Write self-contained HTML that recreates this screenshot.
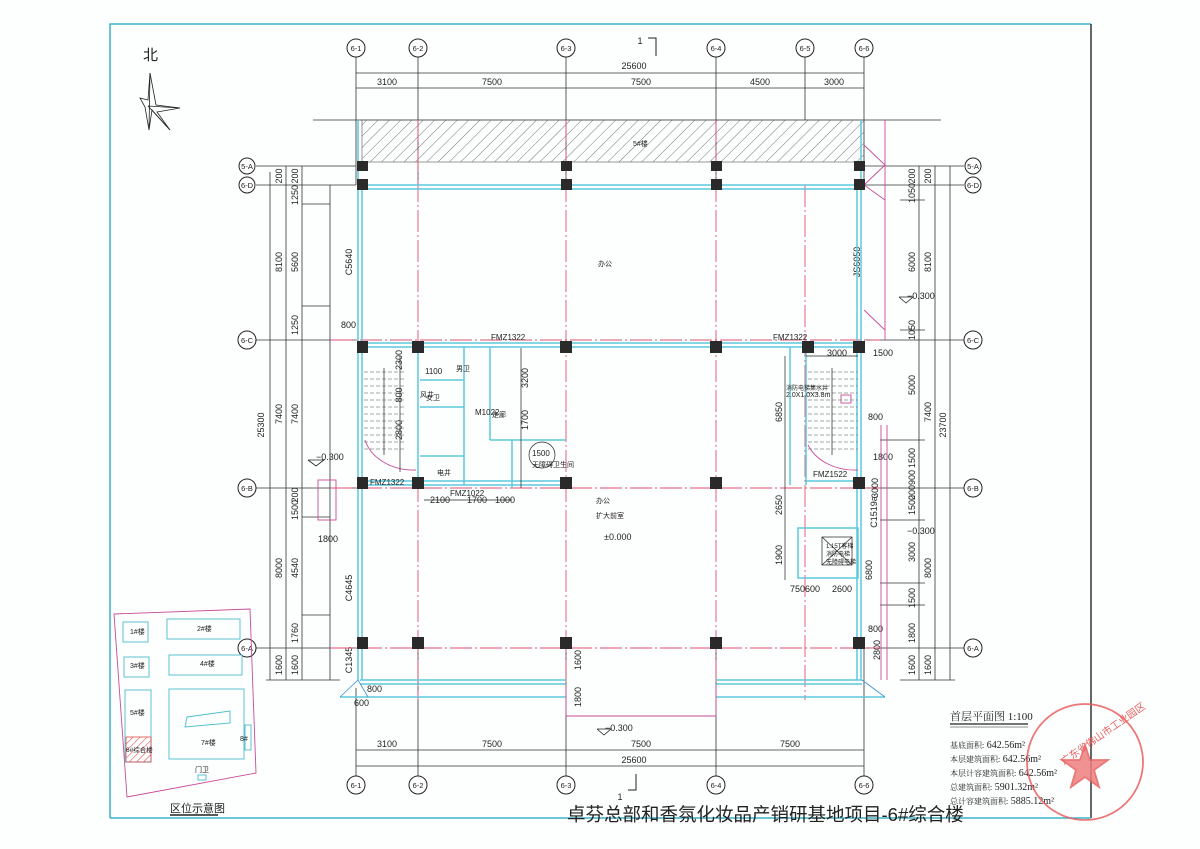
<!DOCTYPE html>
<html><head><meta charset="utf-8"><style>
html,body{margin:0;padding:0;background:#fdfefe;}
svg{display:block;font-family:"Liberation Sans","Noto Sans CJK SC",sans-serif;}
</style></head><body>
<svg width="1200" height="849" viewBox="0 0 1200 849" xmlns="http://www.w3.org/2000/svg">
<defs>
<pattern id="h" width="8" height="8" patternUnits="userSpaceOnUse" patternTransform="rotate(45)"><line x1="0" y1="0" x2="0" y2="8" stroke="#555" stroke-width="0.8"/></pattern>
<pattern id="hr" width="5" height="5" patternUnits="userSpaceOnUse" patternTransform="rotate(45)"><line x1="0" y1="0" x2="0" y2="5" stroke="#d33" stroke-width="1"/></pattern>
</defs>
<rect width="1200" height="849" fill="#fdfefe"/>
<!-- border -->
<polyline points="110,818 110,24 1091,24" fill="none" stroke="#3bb4c8" stroke-width="1.5"/>
<line x1="1091" y1="24" x2="1091" y2="818" stroke="#333" stroke-width="1.5"/>
<line x1="110" y1="818" x2="1091" y2="818" stroke="#3bb4c8" stroke-width="1.5"/>

<!-- north -->
<text x="143" y="60" font-size="15" fill="#222">北</text>
<g fill="none" stroke="#222" stroke-width="0.8">
<polygon points="150,73 156,105 180,108 157,112 170,130 152,110 149,130 145,107 140,98 148,100"/>
<line x1="150" y1="73" x2="149" y2="130"/><line x1="148" y1="106" x2="180" y2="108"/><line x1="148" y1="106" x2="170" y2="130"/>
</g>

<!-- grid lines -->
<g stroke="#333" stroke-width="0.8">
<line x1="356" y1="57" x2="356" y2="185"/><line x1="418" y1="57" x2="418" y2="185"/><line x1="566" y1="57" x2="566" y2="185"/><line x1="716" y1="57" x2="716" y2="185"/><line x1="805" y1="57" x2="805" y2="120"/><line x1="864" y1="57" x2="864" y2="185"/>
<line x1="356" y1="73" x2="864" y2="73"/><line x1="356" y1="88" x2="864" y2="88"/>
<line x1="313" y1="120" x2="941" y2="120"/>
<line x1="356" y1="688" x2="356" y2="776"/><line x1="418" y1="640" x2="418" y2="776"/><line x1="566" y1="640" x2="566" y2="776"/><line x1="716" y1="640" x2="716" y2="776"/><line x1="864" y1="640" x2="864" y2="776"/>
<line x1="356" y1="750" x2="864" y2="750"/><line x1="356" y1="766" x2="864" y2="766"/>
<line x1="256" y1="166" x2="356" y2="166"/><line x1="256" y1="185" x2="356" y2="185"/><line x1="256" y1="340" x2="356" y2="340"/><line x1="256" y1="488" x2="356" y2="488"/><line x1="256" y1="648" x2="356" y2="648"/>
<line x1="864" y1="166" x2="964" y2="166"/><line x1="864" y1="185" x2="964" y2="185"/><line x1="864" y1="340" x2="964" y2="340"/><line x1="864" y1="488" x2="964" y2="488"/><line x1="864" y1="648" x2="964" y2="648"/>
<line x1="270" y1="172" x2="270" y2="680"/><line x1="286" y1="166" x2="286" y2="680"/><line x1="302" y1="166" x2="302" y2="680"/>
<line x1="266" y1="680" x2="340" y2="680"/>
<line x1="302" y1="204" x2="330" y2="204"/><line x1="302" y1="306" x2="330" y2="306"/><line x1="302" y1="517" x2="330" y2="517"/><line x1="302" y1="615" x2="330" y2="615"/>
<line x1="919" y1="166" x2="919" y2="680"/><line x1="935" y1="166" x2="935" y2="680"/><line x1="950" y1="166" x2="950" y2="680"/>
<line x1="900" y1="680" x2="955" y2="680"/>
<line x1="900" y1="200" x2="925" y2="200"/><line x1="900" y1="330" x2="925" y2="330"/><line x1="880" y1="440" x2="925" y2="440"/><line x1="880" y1="520" x2="925" y2="520"/><line x1="880" y1="583" x2="925" y2="583"/><line x1="880" y1="605" x2="925" y2="605"/>
<line x1="330" y1="185" x2="330" y2="680"/>
</g>
<g fill="#fff" stroke="#222" stroke-width="1">
<circle cx="356" cy="48" r="9"/><circle cx="418" cy="48" r="9"/><circle cx="566" cy="48" r="9"/><circle cx="716" cy="48" r="9"/><circle cx="805" cy="48" r="9"/><circle cx="864" cy="48" r="9"/>
<circle cx="356" cy="785" r="9"/><circle cx="418" cy="785" r="9"/><circle cx="566" cy="785" r="9"/><circle cx="716" cy="785" r="9"/><circle cx="864" cy="785" r="9"/>
<circle cx="247" cy="166" r="8"/><circle cx="247" cy="185" r="8"/><circle cx="247" cy="340" r="9"/><circle cx="247" cy="488" r="9"/><circle cx="247" cy="648" r="9"/>
<circle cx="973" cy="166" r="8"/><circle cx="973" cy="185" r="8"/><circle cx="973" cy="340" r="9"/><circle cx="973" cy="488" r="9"/><circle cx="973" cy="648" r="9"/>
</g>
<g font-size="7.5" fill="#222" text-anchor="middle">
<text x="356" y="51">6-1</text><text x="418" y="51">6-2</text><text x="566" y="51">6-3</text><text x="716" y="51">6-4</text><text x="805" y="51">6-5</text><text x="864" y="51">6-6</text>
<text x="356" y="788">6-1</text><text x="418" y="788">6-2</text><text x="566" y="788">6-3</text><text x="716" y="788">6-4</text><text x="864" y="788">6-6</text>
<text x="247" y="169">5-A</text><text x="247" y="188">6-D</text><text x="247" y="343">6-C</text><text x="247" y="491">6-B</text><text x="247" y="651">6-A</text>
<text x="973" y="169">5-A</text><text x="973" y="188">6-D</text><text x="973" y="343">6-C</text><text x="973" y="491">6-B</text><text x="973" y="651">6-A</text>
</g>
<g font-size="9" fill="#222" text-anchor="middle">
<text x="634" y="69">25600</text>
<text x="387" y="85">3100</text><text x="492" y="85">7500</text><text x="641" y="85">7500</text><text x="760" y="85">4500</text><text x="834" y="85">3000</text>
<text x="387" y="747">3100</text><text x="492" y="747">7500</text><text x="641" y="747">7500</text><text x="790" y="747">7500</text>
<text x="634" y="763">25600</text>
<text x="640" y="44">1</text><text x="620" y="800">1</text>
</g>
<polyline points="648,38 656,38 656,56" fill="none" stroke="#222"/>
<polyline points="628,790 636,790 636,774" fill="none" stroke="#222"/>
<g font-size="9" fill="#222" text-anchor="middle">
<text transform="translate(264,425) rotate(-90)">25300</text>
<text transform="translate(282,262) rotate(-90)">8100</text><text transform="translate(282,414) rotate(-90)">7400</text><text transform="translate(282,568) rotate(-90)">8000</text><text transform="translate(282,665) rotate(-90)">1600</text>
<text transform="translate(282,176) rotate(-90)">200</text><text transform="translate(298,176) rotate(-90)">200</text>
<text transform="translate(298,195) rotate(-90)">1250</text><text transform="translate(298,262) rotate(-90)">5600</text><text transform="translate(298,325) rotate(-90)">1250</text>
<text transform="translate(298,414) rotate(-90)">7400</text><text transform="translate(298,495) rotate(-90)">200</text><text transform="translate(298,510) rotate(-90)">1500</text>
<text transform="translate(298,568) rotate(-90)">4540</text><text transform="translate(298,633) rotate(-90)">1760</text><text transform="translate(298,665) rotate(-90)">1600</text>
<text transform="translate(352,262) rotate(-90)">C5640</text><text transform="translate(352,588) rotate(-90)">C4645</text><text transform="translate(352,660) rotate(-90)">C1345</text>
<text transform="translate(915,176) rotate(-90)">200</text><text transform="translate(931,176) rotate(-90)">200</text>
<text transform="translate(915,193) rotate(-90)">1050</text><text transform="translate(915,262) rotate(-90)">6000</text><text transform="translate(915,330) rotate(-90)">1050</text>
<text transform="translate(931,262) rotate(-90)">8100</text>
<text transform="translate(915,385) rotate(-90)">5000</text><text transform="translate(931,412) rotate(-90)">7400</text><text transform="translate(946,425) rotate(-90)">23700</text>
<text transform="translate(915,458) rotate(-90)">1500</text><text transform="translate(915,485) rotate(-90)">200900</text><text transform="translate(915,505) rotate(-90)">1500</text>
<text transform="translate(915,552) rotate(-90)">3000</text><text transform="translate(931,568) rotate(-90)">8000</text><text transform="translate(915,598) rotate(-90)">1500</text>
<text transform="translate(915,633) rotate(-90)">1800</text><text transform="translate(915,665) rotate(-90)">1600</text><text transform="translate(931,665) rotate(-90)">1600</text>
<text transform="translate(860,262) rotate(-90)">JS6050</text>
<text transform="translate(782,412) rotate(-90)">6850</text><text transform="translate(782,505) rotate(-90)">2650</text><text transform="translate(782,555) rotate(-90)">1900</text>
<text transform="translate(872,570) rotate(-90)">6800</text><text transform="translate(877,512) rotate(-90)">C1519a</text><text transform="translate(878,488) rotate(-90)">3000</text>
<text transform="translate(880,650) rotate(-90)">2800</text>
<text transform="translate(402,360) rotate(-90)">2300</text><text transform="translate(402,430) rotate(-90)">2800</text><text transform="translate(402,395) rotate(-90)">800</text>
<text transform="translate(528,378) rotate(-90)">3200</text><text transform="translate(528,420) rotate(-90)">1700</text>
<text transform="translate(581,660) rotate(-90)">1600</text><text transform="translate(581,697) rotate(-90)">1800</text>
</g>
<g font-size="9" fill="#222">
<text x="341" y="328">800</text><text x="318" y="542">1800</text><text x="430" y="503">2100</text><text x="467" y="503">1700</text><text x="495" y="503">1000</text>
<text x="827" y="356">3000</text><text x="873" y="356">1500</text><text x="868" y="420">800</text><text x="873" y="460">1800</text>
<text x="790" y="592">750600</text><text x="832" y="592">2600</text><text x="868" y="632">800</text><text x="367" y="692">800</text><text x="354" y="706">600</text>
<text x="316" y="460">−0.300</text><text x="907" y="299">−0.300</text><text x="907" y="534">−0.300</text><text x="605" y="731">−0.300</text>
<text x="604" y="540">±0.000</text>
</g>
<g fill="none" stroke="#222" stroke-width="0.8">
<polyline points="308,460 316,466 324,460 308,460"/><polyline points="899,297 906,303 913,297 899,297"/><polyline points="597,729 604,735 611,729 597,729"/>
</g>

<rect x="362" y="120" width="502" height="42" fill="url(#h)" stroke="#555" stroke-width="0.6"/>
<text x="633" y="146" font-size="7" fill="#222">5#楼</text>

<g stroke="#e05070" stroke-width="0.9" stroke-dasharray="22,3,2,3">
<line x1="418" y1="120" x2="418" y2="700"/><line x1="566" y1="120" x2="566" y2="700"/><line x1="716" y1="120" x2="716" y2="700"/><line x1="805" y1="185" x2="805" y2="700"/>
<line x1="330" y1="340" x2="880" y2="340"/><line x1="330" y1="488" x2="880" y2="488"/><line x1="330" y1="648" x2="880" y2="648"/>
</g>

<g stroke="#5cc8dc" fill="none" stroke-width="1.5">
<line x1="362" y1="185" x2="860" y2="185"/><line x1="362" y1="189" x2="860" y2="189"/>
<line x1="358" y1="120" x2="358" y2="680"/><line x1="362" y1="185" x2="362" y2="680"/>
<line x1="857" y1="185" x2="857" y2="680"/><line x1="861" y1="120" x2="861" y2="680"/>
<line x1="362" y1="343" x2="860" y2="343"/><line x1="362" y1="347" x2="860" y2="347"/>
<line x1="362" y1="481" x2="566" y2="481"/><line x1="362" y1="485" x2="566" y2="485"/><line x1="806" y1="481" x2="860" y2="481"/>
<line x1="360" y1="680" x2="566" y2="680"/><line x1="360" y1="684" x2="566" y2="684"/><line x1="716" y1="680" x2="862" y2="680"/><line x1="716" y1="684" x2="862" y2="684"/>
<line x1="340" y1="697" x2="566" y2="697"/><line x1="716" y1="697" x2="885" y2="697"/>
<line x1="418" y1="347" x2="418" y2="485"/><line x1="464" y1="347" x2="464" y2="485"/><line x1="490" y1="347" x2="490" y2="440"/><line x1="490" y1="440" x2="566" y2="440"/>
<line x1="420" y1="380" x2="464" y2="380"/><line x1="420" y1="407" x2="464" y2="407"/><line x1="420" y1="456" x2="464" y2="456"/>
<line x1="512" y1="440" x2="512" y2="488"/>
<line x1="790" y1="347" x2="790" y2="485"/><line x1="806" y1="347" x2="806" y2="485"/>
<rect x="798" y="528" width="60" height="50"/>
</g>
<g stroke="#c84c9a" fill="none" stroke-width="0.9">
<polyline points="566,684 566,716 716,716 716,684"/>
<line x1="885" y1="120" x2="885" y2="340"/><polyline points="864,145 885,165 864,185 885,200"/><polyline points="864,310 885,330"/>
<line x1="881" y1="425" x2="881" y2="680"/><line x1="887" y1="425" x2="887" y2="680"/>
<rect x="318" y="480" width="18" height="40"/>
<path d="M365 440 A50 40 0 0 0 416 470"/><path d="M808 445 A50 40 0 0 0 858 470"/>
<rect x="841" y="395" width="10" height="8"/>
</g>
<g stroke="#3d8fd0" fill="none" stroke-width="0.8">
<polyline points="340,697 358,680 368,697"/><polyline points="862,680 885,697"/>
</g>

<g stroke="#888" stroke-width="0.7" stroke-dasharray="4,2">
<line x1="364" y1="372" x2="404" y2="372"/><line x1="364" y1="379" x2="404" y2="379"/><line x1="364" y1="386" x2="404" y2="386"/><line x1="364" y1="393" x2="404" y2="393"/><line x1="364" y1="400" x2="404" y2="400"/><line x1="364" y1="407" x2="404" y2="407"/><line x1="364" y1="414" x2="404" y2="414"/><line x1="364" y1="421" x2="404" y2="421"/><line x1="364" y1="428" x2="404" y2="428"/><line x1="364" y1="435" x2="404" y2="435"/><line x1="364" y1="442" x2="404" y2="442"/><line x1="364" y1="449" x2="404" y2="449"/>
<line x1="808" y1="372" x2="858" y2="372"/><line x1="808" y1="379" x2="858" y2="379"/><line x1="808" y1="386" x2="858" y2="386"/><line x1="808" y1="393" x2="858" y2="393"/><line x1="808" y1="400" x2="858" y2="400"/><line x1="808" y1="407" x2="858" y2="407"/><line x1="808" y1="414" x2="858" y2="414"/><line x1="808" y1="421" x2="858" y2="421"/><line x1="808" y1="428" x2="858" y2="428"/><line x1="808" y1="435" x2="858" y2="435"/><line x1="808" y1="442" x2="858" y2="442"/><line x1="808" y1="449" x2="858" y2="449"/>
</g>
<g stroke="#222" fill="none" stroke-width="0.7">
<line x1="384" y1="368" x2="384" y2="455"/><line x1="832" y1="368" x2="832" y2="455"/>
<line x1="806" y1="356" x2="858" y2="356"/>
<line x1="400" y1="356" x2="400" y2="472"/><line x1="424" y1="500" x2="512" y2="500"/>
<line x1="521" y1="348" x2="521" y2="488"/><line x1="785" y1="356" x2="785" y2="580"/>
<rect x="822" y="537" width="30" height="28"/><line x1="822" y1="537" x2="852" y2="565"/><line x1="852" y1="537" x2="822" y2="565"/>
<circle cx="542" cy="455" r="13"/>
</g>
<g font-size="7" fill="#222">
<text x="456" y="371">男卫</text><text x="426" y="400">女卫</text><text x="492" y="417">走廊</text><text x="437" y="475">电井</text><text x="420" y="397">风井</text>
<text x="532" y="467">无障碍卫生间</text><text x="598" y="266">办公</text><text x="596" y="503">办公</text><text x="596" y="518">扩大前室</text>
<text x="786" y="397">2.0X1.0X3.8m</text><text x="786" y="390" font-size="6">消防电梯集水井</text>
<text x="826" y="548" font-size="6">1:15T客梯</text><text x="826" y="556" font-size="6">消防电梯</text><text x="826" y="564" font-size="6">无障碍电梯</text>
<text x="491" y="340" font-size="8">FMZ1322</text><text x="773" y="340" font-size="8">FMZ1322</text><text x="370" y="485" font-size="8">FMZ1322</text>
<text x="813" y="477" font-size="8">FMZ1522</text><text x="450" y="496" font-size="8">FMZ1022</text>
<text x="475" y="415" font-size="8">M1022</text><text x="425" y="374" font-size="8">1100</text><text x="532" y="456" font-size="8">1500</text>
</g>

<g fill="#2a2a2a">
<rect x="357" y="161" width="11" height="10"/><rect x="561" y="161" width="11" height="10"/><rect x="711" y="161" width="11" height="10"/><rect x="854" y="161" width="11" height="10"/>
<rect x="357" y="179" width="11" height="11"/><rect x="561" y="179" width="11" height="11"/><rect x="711" y="179" width="11" height="11"/><rect x="854" y="179" width="11" height="11"/>
<rect x="357" y="341" width="11" height="12"/><rect x="412" y="341" width="12" height="12"/><rect x="560" y="341" width="12" height="12"/><rect x="710" y="341" width="12" height="12"/><rect x="802" y="341" width="12" height="12"/><rect x="853" y="341" width="12" height="12"/>
<rect x="357" y="477" width="11" height="12"/><rect x="412" y="477" width="12" height="12"/><rect x="560" y="477" width="12" height="12"/><rect x="710" y="477" width="12" height="12"/><rect x="853" y="477" width="12" height="12"/>
<rect x="357" y="637" width="11" height="12"/><rect x="412" y="637" width="12" height="12"/><rect x="560" y="637" width="12" height="12"/><rect x="710" y="637" width="12" height="12"/><rect x="853" y="637" width="12" height="12"/>
</g>

<polygon points="114,614 250,609 256,773 127,797" fill="none" stroke="#c84c9a" stroke-width="0.9"/>
<g fill="none" stroke="#4cbccc" stroke-width="0.9">
<rect x="123" y="622" width="25" height="20"/><rect x="167" y="619" width="73" height="20"/>
<rect x="124" y="657" width="25" height="20"/><rect x="169" y="655" width="73" height="20"/>
<rect x="125" y="690" width="26" height="72"/><rect x="169" y="689" width="75" height="70"/>
<rect x="245" y="725" width="6" height="25"/><rect x="198" y="775" width="8" height="5"/>
<polygon points="187,717 230,711 230,723 185,727"/>
</g>
<rect x="126" y="737" width="25" height="25" fill="url(#hr)" stroke="#d33" stroke-width="0.7"/>
<g font-size="7" fill="#222">
<text x="130" y="634">1#楼</text><text x="197" y="631">2#楼</text><text x="130" y="668">3#楼</text><text x="200" y="666">4#楼</text><text x="130" y="715">5#楼</text><text x="201" y="745">7#楼</text><text x="240" y="741">8#</text><text x="195" y="772">门卫</text><text x="126" y="752" font-size="6.5">6#综合楼</text>
</g>
<text x="170" y="812" font-size="11" fill="#222">区位示意图</text>
<line x1="170" y1="815" x2="218" y2="815" stroke="#222" stroke-width="1.5"/>

<text x="950" y="720" font-size="11" fill="#222" font-family="Liberation Serif,Noto Serif CJK SC,serif">首层平面图 1:100</text>
<line x1="950" y1="724" x2="1028" y2="724" stroke="#222" stroke-width="1.2"/>
<line x1="950" y1="727" x2="1028" y2="727" stroke="#222" stroke-width="0.6"/>
<g font-size="10" fill="#222" font-family="Liberation Serif,Noto Serif CJK SC,serif">
<text x="950" y="748"><tspan font-size="8">基底面积:</tspan> 642.56m²</text>
<text x="950" y="762"><tspan font-size="8">本层建筑面积:</tspan> 642.56m²</text>
<text x="950" y="776"><tspan font-size="8">本层计容建筑面积:</tspan> 642.56m²</text>
<text x="950" y="790"><tspan font-size="8">总建筑面积:</tspan> 5901.32m²</text>
<text x="950" y="804"><tspan font-size="8">总计容建筑面积:</tspan> 5885.12m²</text>
</g>
<g fill="none" stroke="#e86060" stroke-width="1.8" opacity="0.85">
<circle cx="1085" cy="762" r="58"/>
<polygon points="1085,745 1090,760 1108,760 1094,770 1099,787 1085,777 1071,787 1076,770 1062,760 1080,760" fill="#ee8080"/>
</g>
<text x="1042" y="745" font-size="10" fill="#e86060" transform="rotate(-35 1085 720)">广东省佛山市工业园区</text>

<text x="567" y="821" font-size="18.5" fill="#222">卓芬总部和香氛化妆品产销研基地项目-6#综合楼</text>
</svg>
</body></html>
